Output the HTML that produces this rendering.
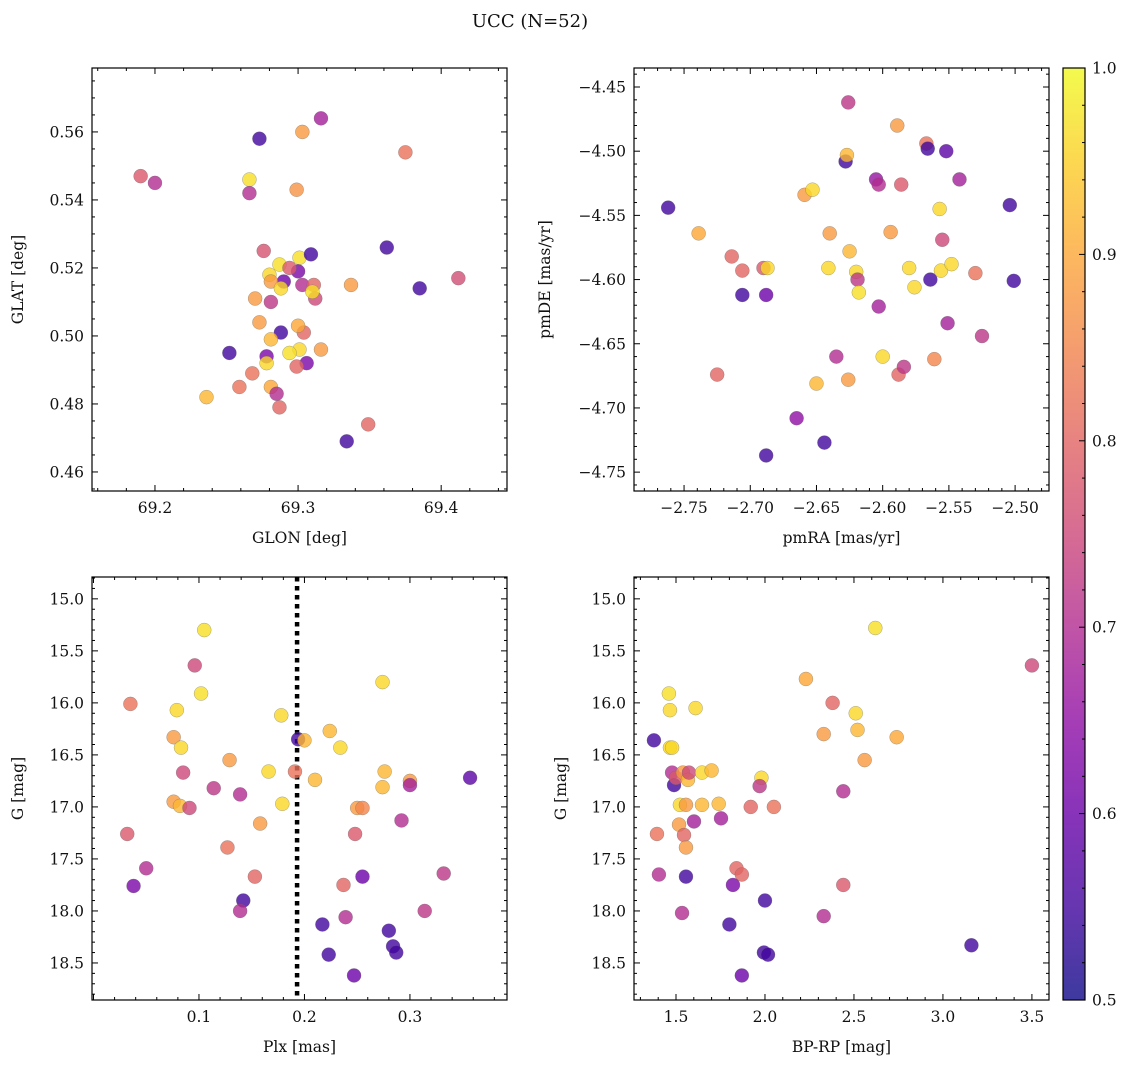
<!DOCTYPE html>
<html><head><meta charset="utf-8">
<style>
body{margin:0;background:#fff;}
svg text{font-family:"DejaVu Serif","Liberation Serif",serif;fill:#111;}
</style></head>
<body>
<svg id="fig" width="1136" height="1068" xmlns="http://www.w3.org/2000/svg">
<defs>
<linearGradient id="plasma" x1="0" y1="1" x2="0" y2="0">
<stop offset="0" stop-color="#0d0887"/><stop offset="0.1" stop-color="#41049d"/><stop offset="0.2" stop-color="#6a00a8"/><stop offset="0.3" stop-color="#8f0da4"/><stop offset="0.4" stop-color="#b12a90"/><stop offset="0.5" stop-color="#cc4778"/><stop offset="0.6" stop-color="#e16462"/><stop offset="0.7" stop-color="#f2844b"/><stop offset="0.8" stop-color="#fca636"/><stop offset="0.9" stop-color="#fcce25"/><stop offset="1" stop-color="#f0f921"/>
</linearGradient>
</defs>
<text x="530" y="27" text-anchor="middle" font-size="18">UCC (N=52)</text>
</svg>
<script>
// Panel 1: GLON vs GLAT
const glonX=[69.190,69.200,69.273,69.266,69.266,69.303,69.316,69.375,69.299,69.276,69.280,69.287,69.301,69.309,69.362,69.385,69.412,69.337,69.300,69.290,69.294,69.303,69.311,69.312,69.310,69.281,69.288,69.281,69.270,69.273,69.288,69.304,69.300,69.301,69.294,69.316,69.281,69.252,69.278,69.278,69.306,69.299,69.268,69.259,69.281,69.285,69.287,69.236,69.334,69.349];
const glatY=[0.547,0.545,0.558,0.546,0.542,0.560,0.564,0.554,0.543,0.525,0.518,0.521,0.523,0.524,0.526,0.514,0.517,0.515,0.519,0.516,0.520,0.515,0.515,0.511,0.513,0.516,0.514,0.510,0.511,0.504,0.501,0.501,0.503,0.496,0.495,0.496,0.499,0.495,0.494,0.492,0.492,0.491,0.489,0.485,0.485,0.483,0.479,0.482,0.469,0.474];
const glonP=[0.78,0.70,0.55,0.97,0.70,0.88,0.68,0.82,0.87,0.77,0.96,0.97,0.97,0.55,0.55,0.55,0.76,0.88,0.62,0.60,0.78,0.70,0.80,0.75,0.97,0.88,0.96,0.72,0.88,0.88,0.55,0.80,0.90,0.96,0.97,0.88,0.92,0.55,0.62,0.96,0.62,0.80,0.82,0.82,0.90,0.70,0.80,0.92,0.55,0.80];
// Panel 2: pmRA vs pmDE
const pmraX=[-2.762,-2.739,-2.706,-2.725,-2.714,-2.706,-2.690,-2.687,-2.688,-2.688,-2.665,-2.659,-2.653,-2.644,-2.640,-2.641,-2.635,-2.650,-2.628,-2.626,-2.627,-2.625,-2.626,-2.620,-2.619,-2.618,-2.605,-2.603,-2.603,-2.600,-2.594,-2.589,-2.586,-2.588,-2.584,-2.580,-2.576,-2.567,-2.566,-2.564,-2.561,-2.557,-2.556,-2.555,-2.552,-2.551,-2.548,-2.542,-2.530,-2.525,-2.504,-2.501];
const pmdeY=[-4.544,-4.564,-4.612,-4.674,-4.582,-4.593,-4.591,-4.591,-4.737,-4.612,-4.708,-4.534,-4.530,-4.727,-4.564,-4.591,-4.660,-4.681,-4.508,-4.462,-4.503,-4.578,-4.678,-4.594,-4.600,-4.610,-4.522,-4.526,-4.621,-4.660,-4.563,-4.480,-4.526,-4.674,-4.668,-4.591,-4.606,-4.494,-4.498,-4.600,-4.662,-4.545,-4.593,-4.569,-4.500,-4.634,-4.588,-4.522,-4.595,-4.644,-4.542,-4.601];
const pmP=[0.55,0.90,0.55,0.80,0.80,0.80,0.78,0.96,0.55,0.60,0.65,0.88,0.96,0.55,0.88,0.96,0.70,0.92,0.55,0.72,0.92,0.92,0.88,0.96,0.72,0.97,0.66,0.70,0.68,0.96,0.88,0.88,0.78,0.80,0.72,0.96,0.96,0.82,0.55,0.55,0.85,0.96,0.96,0.75,0.58,0.68,0.96,0.68,0.82,0.72,0.55,0.55];
// Panel 3: Plx vs G
const plxX=[0.105,0.096,0.102,0.035,0.079,0.076,0.083,0.085,0.129,0.114,0.139,0.076,0.082,0.091,0.032,0.127,0.153,0.050,0.038,0.142,0.139,0.158,0.166,0.178,0.179,0.194,0.191,0.200,0.210,0.224,0.234,0.217,0.223,0.237,0.239,0.247,0.248,0.250,0.255,0.255,0.274,0.274,0.276,0.280,0.284,0.287,0.292,0.300,0.300,0.314,0.332,0.357];
const plxG=[15.30,15.64,15.91,16.01,16.07,16.33,16.43,16.67,16.55,16.82,16.88,16.95,16.99,17.01,17.26,17.39,17.67,17.59,17.76,17.90,18.00,17.16,16.66,16.12,16.97,16.35,16.66,16.36,16.74,16.27,16.43,18.13,18.42,17.75,18.06,18.62,17.26,17.01,17.01,17.67,15.80,16.81,16.66,18.19,18.34,18.40,17.13,16.75,16.79,18.00,17.64,16.72];
const plxP=[0.97,0.75,0.97,0.82,0.96,0.88,0.96,0.75,0.88,0.72,0.70,0.88,0.92,0.75,0.78,0.82,0.80,0.70,0.62,0.55,0.70,0.88,0.96,0.96,0.96,0.55,0.82,0.92,0.92,0.92,0.96,0.55,0.55,0.80,0.70,0.60,0.78,0.88,0.85,0.60,0.96,0.92,0.92,0.55,0.55,0.55,0.70,0.88,0.68,0.72,0.72,0.58];
const plxCut=[0.193];
// Panel 4: BP-RP vs G
const bprpX=[1.376,1.460,1.466,1.466,1.478,1.478,1.489,1.500,1.539,1.522,1.556,1.517,1.545,1.556,1.567,1.393,1.404,1.556,1.534,1.601,1.646,1.573,1.84,1.87,1.82,1.80,1.87,1.753,1.646,1.98,1.97,1.92,2.05,2.0,1.994,2.017,2.23,2.33,2.38,2.44,2.44,2.33,2.51,2.52,2.56,2.62,2.74,3.16,3.50,1.61,1.74,1.70];
const bprpG=[16.36,15.91,16.07,16.43,16.43,16.67,16.79,16.72,16.67,16.98,16.98,17.17,17.27,17.39,16.74,17.26,17.65,17.67,18.02,17.14,16.98,16.67,17.59,17.65,17.75,18.13,18.62,17.11,16.67,16.72,16.80,17.0,17.0,17.9,18.40,18.42,15.77,16.30,16.0,16.85,17.75,18.05,16.10,16.26,16.55,15.28,16.33,18.33,15.64,16.05,16.97,16.65];
const bprpP=[0.55,0.97,0.96,0.96,0.96,0.70,0.55,0.78,0.88,0.96,0.88,0.88,0.80,0.88,0.92,0.82,0.70,0.55,0.70,0.68,0.92,0.75,0.80,0.80,0.62,0.55,0.60,0.68,0.96,0.96,0.72,0.80,0.82,0.55,0.55,0.55,0.90,0.88,0.80,0.70,0.78,0.70,0.96,0.92,0.88,0.97,0.90,0.55,0.75,0.96,0.92,0.92];
// Ticks
const p1XTicks=[69.2,69.3,69.4], p1YTicks=[0.46,0.48,0.50,0.52,0.54,0.56];
const p2XTicks=[-2.75,-2.70,-2.65,-2.60,-2.55,-2.50], p2YTicks=[-4.75,-4.70,-4.65,-4.60,-4.55,-4.50,-4.45];
const p3XTicks=[0.1,0.2,0.3], gTicks=[15.0,15.5,16.0,16.5,17.0,17.5,18.0,18.5];
const p4XTicks=[1.5,2.0,2.5,3.0,3.5];
const cbTicks=[0.5,0.6,0.7,0.8,0.9,1.0];

const NS='http://www.w3.org/2000/svg';
const svg=document.getElementById('fig');
function mk(tag,attrs,parent){const e=document.createElementNS(NS,tag);for(const k in attrs)e.setAttribute(k,attrs[k]);(parent||svg).appendChild(e);return e;}
const stops=[[0,13,8,135],[.1,65,4,157],[.2,106,0,168],[.3,143,13,164],[.4,177,42,144],[.5,204,71,120],[.6,225,100,98],[.7,242,132,75],[.8,252,166,54],[.9,252,206,37],[1,240,249,33]];
function plasma(p){let t=Math.max(0,Math.min(1,(p-0.5)/0.5));for(let i=1;i<stops.length;i++){if(t<=stops[i][0]){const a=stops[i-1],b=stops[i],f=(t-a[0])/(b[0]-a[0]);return `rgb(${Math.round(a[1]+f*(b[1]-a[1]))},${Math.round(a[2]+f*(b[2]-a[2]))},${Math.round(a[3]+f*(b[3]-a[3]))})`;}}return 'rgb(240,249,33)';}
function fmt(v,d){return v.toFixed(d).replace('-','\u2212');}

function panel(o){
  const g=mk('g',{});
  
  
  const sx=v=>o.x0+(v-o.xd[0])/(o.xd[1]-o.xd[0])*(o.x1-o.x0);
  const sy=v=>o.y1-(v-o.yd[0])/(o.yd[1]-o.yd[0])*(o.y1-o.y0);
  if(o.vline){o.vline.forEach(v=>{const l=mk('line',{x1:sx(v),x2:sx(v),y1:o.y0,y2:o.y1,stroke:'#000','stroke-width':4.5,'stroke-dasharray':'4.5,4.5'},g);
    
    });}
  for(let i=0;i<o.xs.length;i++){
    const c=mk('circle',{cx:sx(o.xs[i]),cy:sy(o.ys[i]),r:7,fill:plasma(o.ps[i]),'fill-opacity':0.8,stroke:'#666','stroke-width':0.4,'stroke-opacity':0.7},g);
    
    
  }
  mk('rect',{x:o.x0,y:o.y0,width:o.x1-o.x0,height:o.y1-o.y0,fill:'none',stroke:'#000','stroke-width':1.2},g);
  const xstep=o.xt[1]-o.xt[0], ystep=o.yt[1]-o.yt[0];
  for(let k=-o.xm;k<(o.xt.length+1)*o.xm;k++){const v=o.xt[0]+k*xstep/o.xm;const X=sx(v);if(X<o.x0-0.5||X>o.x1+0.5)continue;const len=(k%o.xm===0)?6:3;
    mk('line',{x1:X,x2:X,y1:o.y1,y2:o.y1-len,stroke:'#000','stroke-width':1},g);mk('line',{x1:X,x2:X,y1:o.y0,y2:o.y0+len,stroke:'#000','stroke-width':1},g);}
  for(let k=-o.ym;k<(o.yt.length+1)*o.ym;k++){const v=o.yt[0]+k*ystep/o.ym;const Y=sy(v);if(Y<o.y0-0.5||Y>o.y1+0.5)continue;const len=(k%o.ym===0)?6:3;
    mk('line',{x1:o.x0,x2:o.x0+len,y1:Y,y2:Y,stroke:'#000','stroke-width':1},g);mk('line',{x1:o.x1,x2:o.x1-len,y1:Y,y2:Y,stroke:'#000','stroke-width':1},g);}
  o.xt.forEach(v=>{const t=mk('text',{x:sx(v),y:o.y1+22,'text-anchor':'middle','font-size':15.5},g);t.textContent=fmt(v,o.xdp);
    
    });
  o.yt.forEach(v=>{const t=mk('text',{x:o.x0-8,y:sy(v)+5.5,'text-anchor':'end','font-size':15.5},g);t.textContent=fmt(v,o.ydp);
    
    });
  const xl=mk('text',{x:(o.x0+o.x1)/2,y:o.y1+52,'text-anchor':'middle','font-size':15.5},g);xl.textContent=o.xlabel;
  
  
  const yl=mk('text',{x:o.ylx,y:(o.y0+o.y1)/2,'text-anchor':'middle','font-size':15.5,transform:`rotate(-90 ${o.ylx} ${(o.y0+o.y1)/2})`},g);yl.textContent=o.ylabel;
  
  
}
panel({name:'glon-glat-panel',x0:92,x1:507,y0:68,y1:491,xd:[69.156,69.446],yd:[0.4544,0.5788],xs:glonX,ys:glatY,ps:glonP,xt:p1XTicks,yt:p1YTicks,xm:5,ym:4,xdp:1,ydp:2,xlabel:'GLON [deg]',ylabel:'GLAT [deg]',ylx:23});
panel({name:'proper-motion-panel',x0:634,x1:1049,y0:68,y1:491,xd:[-2.7878,-2.4744],yd:[-4.7647,-4.4352],xs:pmraX,ys:pmdeY,ps:pmP,xt:p2XTicks,yt:p2YTicks,xm:5,ym:5,xdp:2,ydp:2,xlabel:'pmRA [mas/yr]',ylabel:'pmDE [mas/yr]',ylx:550});
panel({name:'parallax-panel',x0:92,x1:507,y0:577,y1:1000,xd:[-0.0014,0.392],yd:[18.856,14.79],xs:plxX,ys:plxG,ps:plxP,xt:p3XTicks,yt:gTicks,xm:5,ym:5,xdp:1,ydp:1,xlabel:'Plx [mas]',ylabel:'G [mag]',ylx:23,vline:plxCut});
panel({name:'cmd-panel',x0:634,x1:1049,y0:577,y1:1000,xd:[1.264,3.596],yd:[18.856,14.79],xs:bprpX,ys:bprpG,ps:bprpP,xt:p4XTicks,yt:gTicks,xm:5,ym:5,xdp:1,ydp:1,xlabel:'BP-RP [mag]',ylabel:'G [mag]',ylx:566});

// Colorbar
const cb=mk('g',{});


const cx0=1063,cx1=1085,cy0=68,cy1=1000;
mk('rect',{x:cx0,y:cy0,width:cx1-cx0,height:cy1-cy0,fill:'url(#plasma)','fill-opacity':0.8},cb);
mk('rect',{x:cx0,y:cy0,width:cx1-cx0,height:cy1-cy0,fill:'none',stroke:'#000','stroke-width':1.2},cb);
const cy=v=>cy1-(v-0.5)/0.5*(cy1-cy0);
for(let k=0;k<=25;k++){const v=0.5+k*0.02;const Y=cy(v);const len=(k%5===0)?6:3;
  mk('line',{x1:cx1,x2:cx1-len,y1:Y,y2:Y,stroke:'#000','stroke-width':1},cb);}
cbTicks.forEach(v=>{const t=mk('text',{x:cx1+7,y:cy(v)+5.5,'font-size':15.5},cb);t.textContent=v.toFixed(1);
  
  });
</script>
</body></html>
